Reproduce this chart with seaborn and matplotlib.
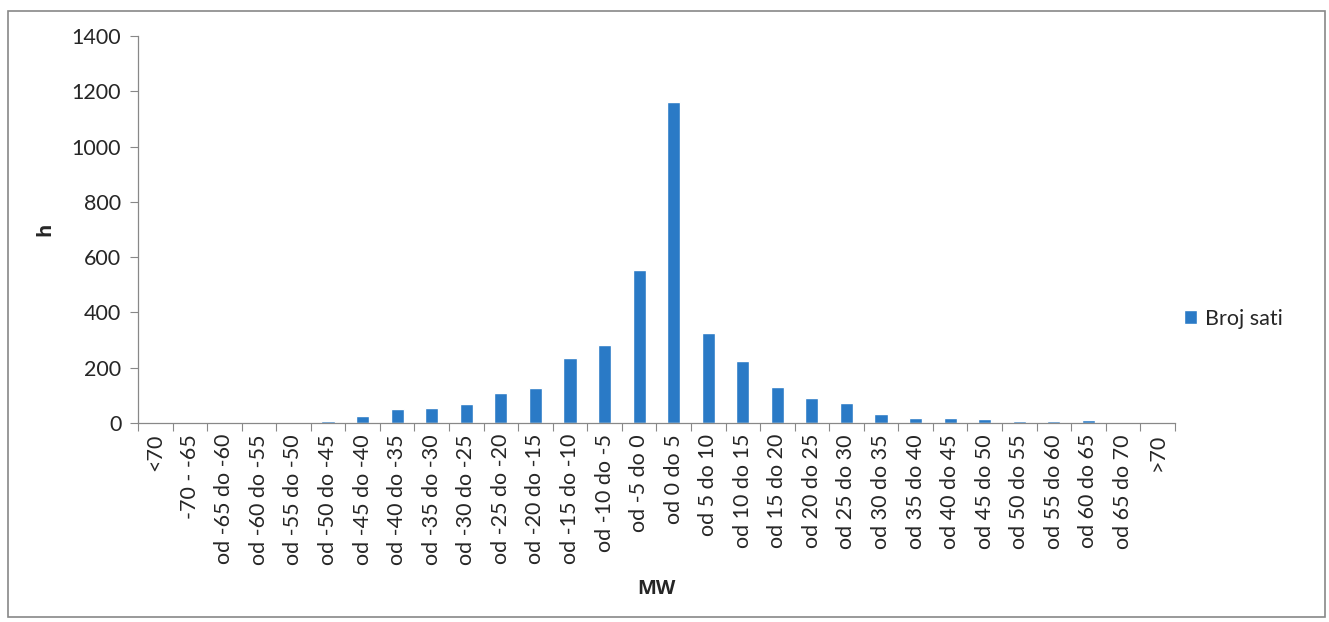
import matplotlib
matplotlib.use("Agg")
import matplotlib.pyplot as plt
import seaborn as sns
import pandas as pd
from matplotlib.patches import Rectangle
from matplotlib.ticker import FixedLocator, NullFormatter

categories = ["<70", "-70 - -65", "od -65 do -60", "od -60 do -55", "od -55 do -50",
              "od -50 do -45", "od -45 do -40", "od -40 do -35", "od -35 do -30",
              "od -30 do -25", "od -25 do -20", "od -20 do -15", "od -15 do -10",
              "od -10 do -5", "od -5 do 0", "od 0 do 5", "od 5 do 10", "od 10 do 15",
              "od 15 do 20", "od 20 do 25", "od 25 do 30", "od 30 do 35", "od 35 do 40",
              "od 40 do 45", "od 45 do 50", "od 50 do 55", "od 55 do 60", "od 60 do 65",
              "od 65 do 70", ">70"]
values = [0, 0, 0, 0, 0, 7, 25, 50, 53, 69, 110, 127, 235, 282, 553, 1160, 326, 225,
          131, 89, 73, 34, 17, 17, 13, 7, 7, 10, 0, 0]
series_name = "Broj sati"
yticks = [0, 200, 400, 600, 800, 1000, 1200, 1400]

sns.set_style("white")
plt.rcParams["font.family"] = ["Lato", "DejaVu Sans"]

df = pd.DataFrame({"MW": categories, "h": values, "s": series_name})

fig = plt.figure(figsize=(13.29, 6.22), dpi=100)
ax = fig.add_axes([0.1038, 0.32, 0.7802, 0.622])
sns.barplot(data=df, x="MW", y="h", hue="s", palette=["#2a7ac6"], width=0.38,
            saturation=1, dodge=False, ax=ax, legend=True)

fs = 15.5
ax.set_ylim(0, 1400)
ax.set_xlim(-0.5, len(categories) - 0.5)
ax.set_yticks(yticks)
ax.set_yticklabels([str(t) for t in yticks], fontsize=fs)
ax.set_xticks(range(len(categories)))
ax.set_xticklabels(categories, rotation=90, fontsize=fs)
ax.xaxis.set_minor_locator(FixedLocator([i - 0.5 for i in range(len(categories) + 1)]))
ax.xaxis.set_minor_formatter(NullFormatter())
ax.tick_params(axis="x", which="major", length=0, pad=8)
ax.tick_params(axis="x", which="minor", length=6, width=0.8, color="#888888", direction="out", bottom=True)
ax.tick_params(axis="y", length=6, width=0.8, color="#888888", direction="out", left=True, pad=6)

for s in ["top", "right"]:
    ax.spines[s].set_visible(False)
for s in ["left", "bottom"]:
    ax.spines[s].set_color("#888888")
    ax.spines[s].set_linewidth(0.9)

ax.set_xlabel("MW", fontsize=fs - 1, fontweight="bold", family=["Open Sans", "DejaVu Sans"], labelpad=10)
ax.set_ylabel("h", fontsize=fs - 1, fontweight="bold", family=["Open Sans", "DejaVu Sans"], labelpad=12)

leg = ax.legend(loc="center left", bbox_to_anchor=(0.99, 0.27), frameon=False,
                fontsize=fs, handlelength=0.6, handleheight=0.6, handletextpad=0.4)

fig.patches.append(Rectangle((0.006, 0.008), 0.991, 0.975, transform=fig.transFigure,
                             fill=False, edgecolor="#888888", linewidth=1.2))

fig.savefig("out.png", dpi=100, facecolor="white")
